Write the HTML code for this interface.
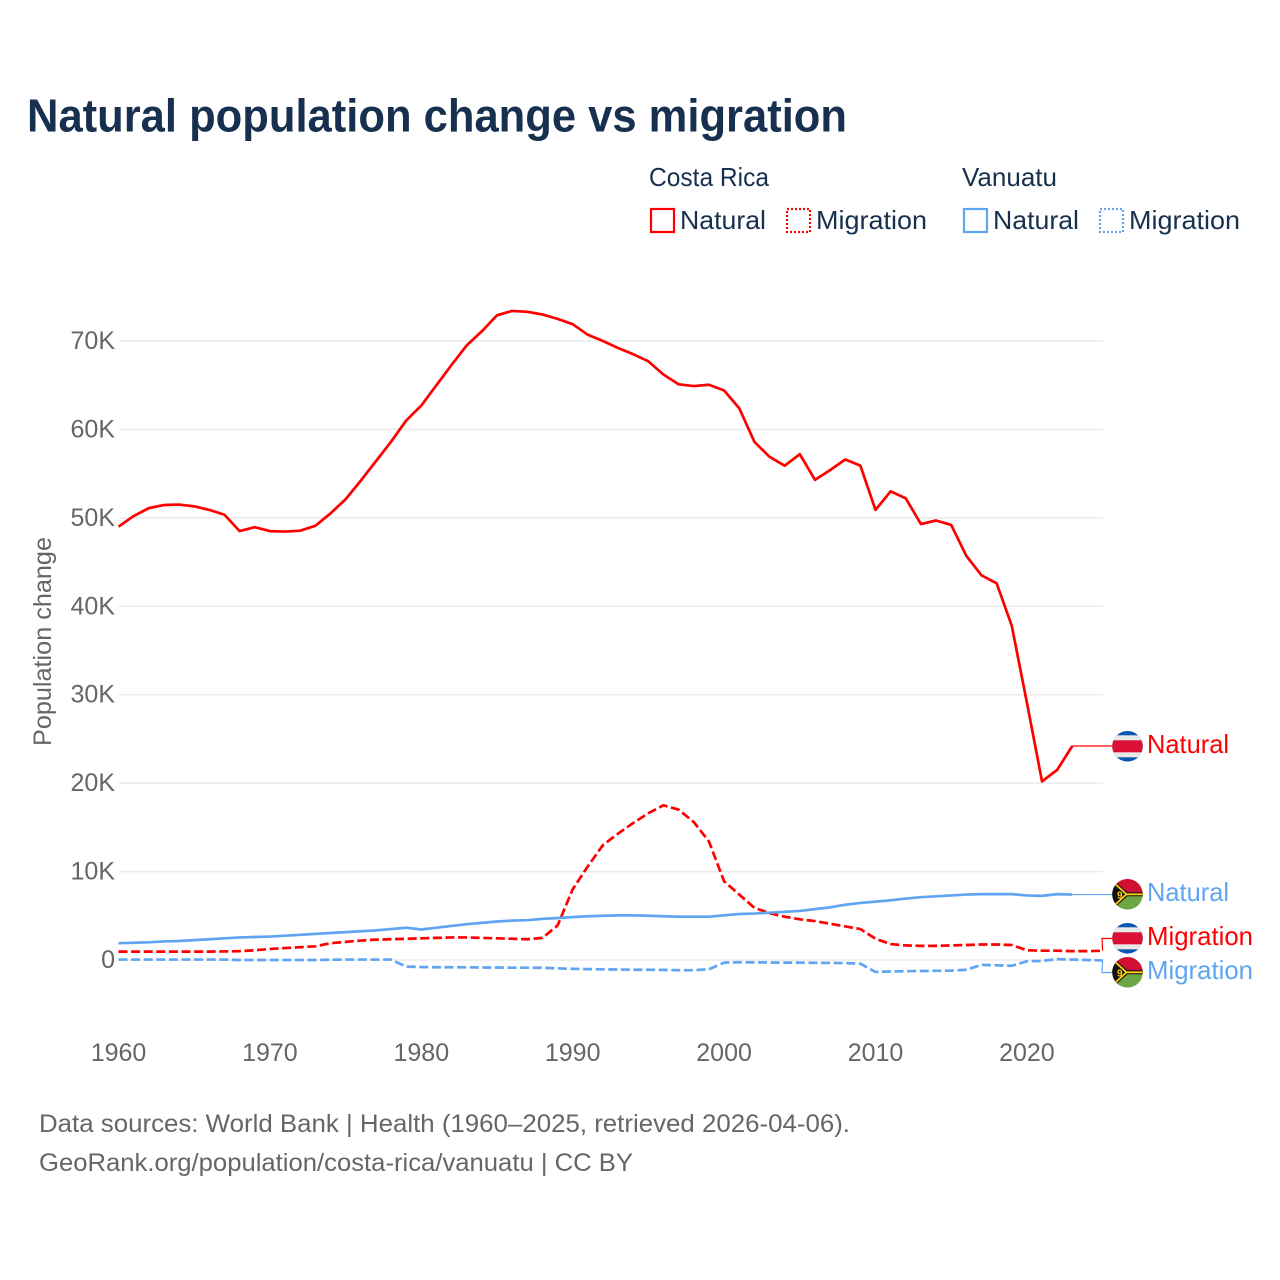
<!DOCTYPE html>
<html lang="en">
<head>
<meta charset="utf-8">
<title>Natural population change vs migration</title>
<style>
html,body{margin:0;padding:0;background:#fff;}
svg{display:block;}
text{font-family:"Liberation Sans",sans-serif;}
</style>
</head>
<body>
<svg id="chart" xmlns="http://www.w3.org/2000/svg" width="1280" height="1280" viewBox="0 0 1280 1280">
  <defs>
    <clipPath id="flag-clip"><circle cx="0" cy="0" r="15.3"></circle></clipPath>
    <g id="flag-cr">
      <rect x="-16" y="-16" width="32" height="32" fill="#0b57b0"></rect>
      <rect x="-16" y="-11" width="32" height="22" fill="#e8e8e8"></rect>
      <rect x="-16" y="-6" width="32" height="12" fill="#dc0f37"></rect>
    </g>
    <g id="flag-vu">
      <rect x="-16" y="-16" width="32" height="16" fill="#d21034"></rect>
      <rect x="-16" y="0" width="32" height="16" fill="#6da544"></rect>
      <path d="M-16,-16 L0,-2 L16,-2 L16,2 L0,2 L-16,16 Z" fill="#111"></path>
      <path d="M-13,-11 L-1,0 L-13,11 M-1,0 L16,0" fill="none" stroke="#fdce12" stroke-width="1.8"></path>
      <text x="-10.5" y="4" font-size="10" font-weight="bold" fill="#fdce12">9</text>
    </g>
  </defs>

  <rect x="0" y="0" width="1280" height="1280" fill="#fff"></rect>

  <text x="27" y="131.5" font-size="46" font-weight="bold" fill="#18304f" textLength="820" lengthAdjust="spacingAndGlyphs">Natural population change vs migration</text>

  <g font-size="26" fill="#18304f">
    <text x="649" y="186" textLength="120" lengthAdjust="spacingAndGlyphs">Costa Rica</text>
    <text x="962" y="186" textLength="95" lengthAdjust="spacingAndGlyphs">Vanuatu</text>

    <g>
      <rect x="651" y="209" width="23" height="23" fill="none" stroke="#ff0000" stroke-width="2.2"></rect>
      <text x="680" y="229" textLength="86" lengthAdjust="spacingAndGlyphs">Natural</text>
    </g>
    <g>
      <rect x="787" y="209" width="23" height="23" fill="none" stroke="#ff0000" stroke-width="2.2" stroke-dasharray="2 2"></rect>
      <text x="816" y="229" textLength="111" lengthAdjust="spacingAndGlyphs">Migration</text>
    </g>
    <g>
      <rect x="964" y="209" width="23" height="23" fill="none" stroke="#60a5f1" stroke-width="2.2"></rect>
      <text x="993" y="229" textLength="86" lengthAdjust="spacingAndGlyphs">Natural</text>
    </g>
    <g>
      <rect x="1100" y="209" width="23" height="23" fill="none" stroke="#60a5f1" stroke-width="2.2" stroke-dasharray="2 2"></rect>
      <text x="1129" y="229" textLength="111" lengthAdjust="spacingAndGlyphs">Migration</text>
    </g>
  </g>

  <g id="grid"></g>
  <g id="y-ticks"></g>
  <g id="x-ticks"></g>

  <text transform="translate(51,746) rotate(-90)" x="0" y="0" font-size="25" fill="#666" textLength="209" lengthAdjust="spacingAndGlyphs">Population change</text>

  <g id="connectors"></g>
  <g id="series"></g>

  <g font-size="26">
    <use href="#flag-cr" transform="translate(1127.5,746.3)" clip-path="url(#flag-clip)"></use>
    <text x="1147" y="753" fill="#ff0000" textLength="82" lengthAdjust="spacingAndGlyphs">Natural</text>
    <use href="#flag-vu" transform="translate(1127.5,894.3)" clip-path="url(#flag-clip)"></use>
    <text x="1147" y="901" fill="#60a5f1" textLength="82" lengthAdjust="spacingAndGlyphs">Natural</text>
    <use href="#flag-cr" transform="translate(1127.5,938.3)" clip-path="url(#flag-clip)"></use>
    <text x="1147" y="945" fill="#ff0000" textLength="106" lengthAdjust="spacingAndGlyphs">Migration</text>
    <use href="#flag-vu" transform="translate(1127.5,972.3)" clip-path="url(#flag-clip)"></use>
    <text x="1147" y="979" fill="#60a5f1" textLength="106" lengthAdjust="spacingAndGlyphs">Migration</text>
  </g>

  <g font-size="25" fill="#666">
    <text x="39" y="1132" textLength="811" lengthAdjust="spacingAndGlyphs">Data sources: World Bank | Health (1960–2025, retrieved 2026-04-06).</text>
    <text x="39" y="1171" textLength="594" lengthAdjust="spacingAndGlyphs">GeoRank.org/population/costa-rica/vanuatu | CC BY</text>
  </g>
</svg>

<script>
const xTickYears = [1960, 1970, 1980, 1990, 2000, 2010, 2020];
const yTickValues = [0, 10, 20, 30, 40, 50, 60, 70];
const yTickLabels = ['0', '10K', '20K', '30K', '40K', '50K', '60K', '70K'];
const startYear = 1960;

// Values in thousands of people, one per year from 1960
const costaRicaNatural = [49.0,50.2,51.1,51.45,51.5,51.3,50.9,50.35,48.5,48.95,48.5,48.45,48.55,49.1,50.5,52.1,54.2,56.4,58.6,61.0,62.7,65.0,67.3,69.5,71.1,72.9,73.4,73.3,73.0,72.5,71.9,70.7,70.0,69.2,68.5,67.7,66.2,65.1,64.9,65.05,64.4,62.4,58.6,56.9,55.9,57.2,54.3,55.4,56.6,55.9,50.9,53.0,52.2,49.3,49.7,49.2,45.7,43.5,42.6,37.8,29.1,20.2,21.5,24.2];
const costaRicaMigration = [0.95,0.95,0.95,0.95,0.95,0.95,0.95,0.97,1.0,1.1,1.25,1.35,1.45,1.55,1.9,2.05,2.2,2.3,2.35,2.4,2.45,2.5,2.55,2.55,2.5,2.45,2.4,2.35,2.5,3.9,8.0,10.6,13.0,14.3,15.5,16.6,17.5,17.0,15.6,13.4,8.9,7.4,5.9,5.3,4.9,4.6,4.4,4.1,3.8,3.5,2.4,1.8,1.65,1.6,1.6,1.65,1.7,1.75,1.75,1.7,1.1,1.05,1.05,1.0,1.0,1.05];
const vanuatuNatural = [1.9,1.95,2.0,2.1,2.15,2.25,2.35,2.45,2.55,2.6,2.65,2.75,2.85,2.95,3.05,3.15,3.25,3.35,3.5,3.65,3.45,3.65,3.85,4.05,4.2,4.35,4.45,4.5,4.65,4.75,4.85,4.95,5.0,5.05,5.05,5.0,4.95,4.9,4.9,4.9,5.05,5.2,5.25,5.35,5.45,5.55,5.75,5.95,6.25,6.45,6.6,6.75,6.95,7.1,7.2,7.3,7.4,7.45,7.45,7.45,7.3,7.25,7.45,7.4];
const vanuatuMigration = [0.05,0.05,0.05,0.05,0.05,0.05,0.05,0.05,0.0,0.0,0.0,0.0,0.0,0.0,0.03,0.05,0.05,0.05,0.05,-0.75,-0.8,-0.82,-0.82,-0.82,-0.85,-0.85,-0.87,-0.87,-0.88,-0.95,-1.0,-1.03,-1.05,-1.08,-1.1,-1.1,-1.12,-1.15,-1.15,-1.05,-0.3,-0.25,-0.27,-0.28,-0.3,-0.3,-0.32,-0.33,-0.35,-0.42,-1.35,-1.3,-1.27,-1.24,-1.22,-1.2,-1.1,-0.55,-0.6,-0.65,-0.15,-0.1,0.1,0.05,0.0,-0.05];

const SVG_NS = 'http://www.w3.org/2000/svg';
function xScale(year) { return 118.5 + (year - 1960) * 15.14; }
function yScale(value) { return 960 - value * 8.843; }
function make(tag, parentId, attrs) {
  const el = document.createElementNS(SVG_NS, tag);
  for (const k in attrs) el.setAttribute(k, attrs[k]);
  document.getElementById(parentId).appendChild(el);
  return el;
}
function linePath(values) {
  return values.map(function (v, i) {
    return (i ? 'L' : 'M') + xScale(startYear + i).toFixed(2) + ',' + yScale(v).toFixed(2);
  }).join(' ');
}

yTickValues.forEach(function (v, i) {
  const g = make('line', 'grid', { x1: xScale(1960), x2: 1103, y1: yScale(v), y2: yScale(v), stroke: '#ebebeb', 'stroke-width': 1.5 });
  
  
  const t = make('text', 'y-ticks', { x: 115, y: yScale(v) + 8, 'text-anchor': 'end', 'font-size': 25, fill: '#666' });
  
  
  t.textContent = yTickLabels[i];
});

xTickYears.forEach(function (year) {
  const t = make('text', 'x-ticks', { x: xScale(year), y: 1061, 'text-anchor': 'middle', 'font-size': 25, fill: '#666' });
  
  
  t.textContent = String(year);
});

function lastX(values) { return xScale(startYear + values.length - 1); }
function lastY(values) { return yScale(values[values.length - 1]); }

const c1 = make('path', 'connectors', { d: 'M' + lastX(costaRicaNatural) + ',' + lastY(costaRicaNatural) + ' L1113,' + lastY(costaRicaNatural), fill: 'none', stroke: '#ff0000', 'stroke-width': 1.2 });


const c2 = make('path', 'connectors', { d: 'M' + lastX(vanuatuNatural) + ',' + lastY(vanuatuNatural) + ' L1113,' + lastY(vanuatuNatural), fill: 'none', stroke: '#60a5f1', 'stroke-width': 1.2 });


const c3 = make('path', 'connectors', { d: 'M' + lastX(costaRicaMigration) + ',' + lastY(costaRicaMigration) + ' L1102,938.5 L1112,938.5', fill: 'none', stroke: '#ff0000', 'stroke-width': 1.2 });


const c4 = make('path', 'connectors', { d: 'M' + lastX(vanuatuMigration) + ',' + lastY(vanuatuMigration) + ' L1102,972.5 L1112,972.5', fill: 'none', stroke: '#60a5f1', 'stroke-width': 1.2 });



const s1 = make('path', 'series', { d: linePath(costaRicaMigration), fill: 'none', stroke: '#ff0000', 'stroke-width': 2.7, 'stroke-dasharray': '9 3.6', 'stroke-linejoin': 'round' });


const s2 = make('path', 'series', { d: linePath(vanuatuMigration), fill: 'none', stroke: '#60a5f1', 'stroke-width': 2.7, 'stroke-dasharray': '9 3.6', 'stroke-linejoin': 'round' });


const s3 = make('path', 'series', { d: linePath(vanuatuNatural), fill: 'none', stroke: '#60a5f1', 'stroke-width': 2.7, 'stroke-linejoin': 'round' });


const s4 = make('path', 'series', { d: linePath(costaRicaNatural), fill: 'none', stroke: '#ff0000', 'stroke-width': 2.7, 'stroke-linejoin': 'round' });


</script>
</body>
</html>
